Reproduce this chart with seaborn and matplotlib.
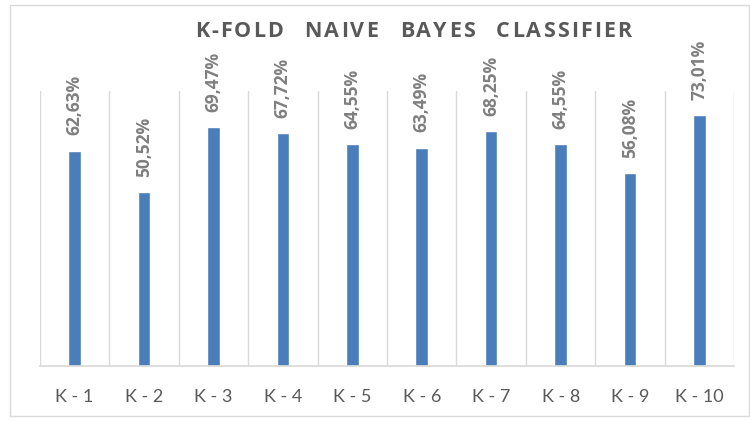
import matplotlib
matplotlib.use("Agg")
import matplotlib.pyplot as plt
import seaborn as sns
import pandas as pd
import numpy as np

categories = ["K - 1", "K - 2", "K - 3", "K - 4", "K - 5", "K - 6", "K - 7", "K - 8", "K - 9", "K - 10"]
accuracy = [62.63, 50.52, 69.47, 67.72, 64.55, 63.49, 68.25, 64.55, 56.08, 73.01]
labels = ["62,63%", "50,52%", "69,47%", "67,72%", "64,55%", "63,49%", "68,25%", "64,55%", "56,08%", "73,01%"]
title = "K-FOLD NAIVE BAYES CLASSIFIER"

sns.set_theme(style="white")
plt.rcParams['font.family'] = ['Lato', 'DejaVu Sans']

df = pd.DataFrame({"fold": categories, "acc": accuracy})

fig = plt.figure(figsize=(7.5, 4.21), dpi=100)
ax = fig.add_axes([0.053, 0.131, 0.926, 0.653])
sns.barplot(data=df, x="fold", y="acc", color="#4a7ebb", width=0.18, ax=ax, saturation=1)

ax.set_ylim(0, 80)
ax.set_xlim(-0.5, len(categories) - 0.5)
for b in np.arange(-0.5, len(categories), 1.0):
    ax.axvline(b, color="#d9d9d9", lw=1.0, zorder=0)
for s in ["top", "left", "right"]:
    ax.spines[s].set_visible(False)
ax.spines["bottom"].set_color("#d9d9d9")
ax.set_yticks([])
ax.set_xlabel("")
ax.set_ylabel("")
ax.tick_params(axis="x", length=0, pad=17, labelsize=13, labelcolor="#595959")

for i, (v, t) in enumerate(zip(accuracy, labels)):
    ax.annotate(t, (i, v), xytext=(0, 11), textcoords="offset points",
                rotation=90, ha="center", va="bottom", fontsize=12.5,
                fontweight="bold", color="#7f7f7f", family=["Open Sans", "DejaVu Sans"])

# title with letter spacing
fig.canvas.draw()
renderer = fig.canvas.get_renderer()
props = dict(fontsize=15.5, fontweight="bold", color="#595959", va="center", ha="left",
             family=["Open Sans", "DejaVu Sans"])
widths = []
for ch in title:
    t = fig.text(0, 0, ch if ch != " " else "n", **props)
    w = t.get_window_extent(renderer).width
    if ch == " ":
        w *= 1.2
    widths.append(w)
    t.remove()
target = 437.0
spacing = (target - sum(widths)) / (len(title) - 1)
cx = 0.551 * fig.bbox.width
x = cx - target / 2
y = 0.925 * fig.bbox.height
for ch, w in zip(title, widths):
    if ch != " ":
        fig.text(x / fig.bbox.width, y / fig.bbox.height, ch, **props)
    x += w + spacing

border = plt.Rectangle((0.013, 0.012), 0.985, 0.975, transform=fig.transFigure,
                       fill=False, edgecolor="#d9d9d9", lw=1)
fig.add_artist(border)

fig.savefig("out.png", dpi=100)
